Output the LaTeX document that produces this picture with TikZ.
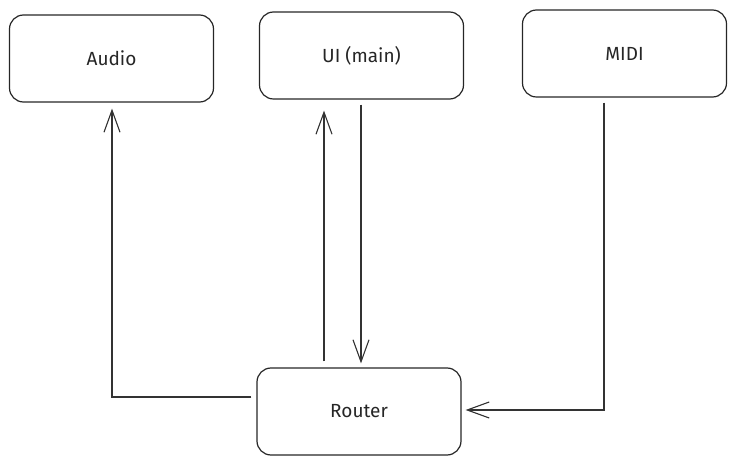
\documentclass[tikz,border=0pt]{standalone}
\usepackage{fontspec}
\setmainfont{Fira Sans}
\usetikzlibrary{arrows.meta}
\begin{document}
\begin{tikzpicture}[x=1pt,y=1pt,
  box/.style={draw=black!85,line width=1.2pt,rounded corners=14pt,minimum width=204pt,minimum height=87pt,inner sep=0pt,font=\fontsize{19}{22}\selectfont\color{black!85}},
  arr/.style={draw=black!80,line width=1.1pt,-{Straight Barb[length=22pt,width=16pt,line width=1.1pt]}}]
\useasboundingbox (0,0) rectangle (737,-465);
\node[box] (audio) at (111.5,-58.5) {Audio};
\node[box] (ui) at (361.5,-55.5) {UI (main)};
\node[box] (midi) at (624.5,-53.5) {MIDI};
\node[box] (router) at (359,-411.5) {Router};
\draw[arr] ([shift={(-5,14.5)}]router.west) -| ([shift={(0.5,-6)}]audio.south);
\draw[arr] ([shift={(-35,6)}]router.north) -- ([shift={(-37.5,-11)}]ui.south);
\draw[arr] ([shift={(-0.5,-5)}]ui.south) -- ([shift={(2,4)}]router.north);
\draw[arr] ([shift={(-20.5,-5)}]midi.south) |- ([shift={(4,1.5)}]router.east);
\end{tikzpicture}
\end{document}
